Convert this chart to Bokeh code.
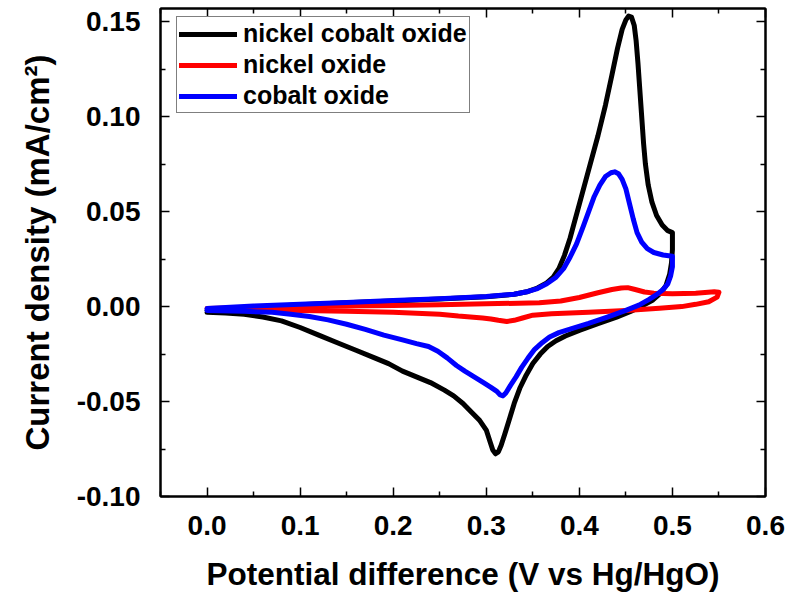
from bokeh.plotting import figure
from bokeh.models import Range1d, LinearAxis, FixedTicker, PrintfTickFormatter, Legend, LegendItem, CustomJSTickFormatter
from bokeh.embed import file_html
from bokeh.resources import INLINE

# ---- data ----
# nickel cobalt oxide: anodic sweep 0 -> 0.5 V, then cathodic sweep 0.5 -> 0 V
nco_v = [0.000, 0.050, 0.100, 0.150, 0.200, 0.250, 0.300, 0.330, 0.345, 0.355, 0.365, 0.372,
         0.378, 0.384, 0.390, 0.395, 0.400, 0.410, 0.420, 0.428, 0.435, 0.441, 0.446, 0.450,
         0.453, 0.456, 0.459, 0.461, 0.463, 0.465, 0.467, 0.469, 0.471, 0.474, 0.478, 0.483,
         0.489, 0.495, 0.500,
         0.500, 0.499, 0.497, 0.493, 0.487, 0.479, 0.468, 0.455, 0.440, 0.420, 0.400, 0.385,
         0.375, 0.366, 0.358, 0.350, 0.343, 0.336, 0.330, 0.325, 0.320, 0.316, 0.313, 0.310,
         0.307, 0.304, 0.300, 0.293, 0.285, 0.275, 0.265, 0.255, 0.240, 0.225, 0.210, 0.195,
         0.180, 0.160, 0.140, 0.120, 0.100, 0.080, 0.060, 0.040, 0.020, 0.000]
nco_j = [-0.002, -0.0005, 0.001, 0.002, 0.003, 0.004, 0.0052, 0.0065, 0.008, 0.0098, 0.0125, 0.0155,
         0.020, 0.027, 0.036, 0.045, 0.054, 0.072, 0.090, 0.106, 0.122, 0.136, 0.146, 0.151,
         0.153, 0.1525, 0.148, 0.140, 0.128, 0.114, 0.100, 0.086, 0.075, 0.064, 0.055, 0.048,
         0.043, 0.040, 0.039,
         0.030, 0.023, 0.017, 0.011, 0.007, 0.0035, 0.0005, -0.0025, -0.0055, -0.009, -0.0125, -0.0155,
         -0.018, -0.021, -0.025, -0.030, -0.036, -0.043, -0.051, -0.059, -0.067, -0.073, -0.0765, -0.0775,
         -0.0755, -0.071, -0.065, -0.060, -0.056, -0.051, -0.047, -0.044, -0.040, -0.037, -0.034, -0.030,
         -0.027, -0.023, -0.019, -0.015, -0.011, -0.0075, -0.0055, -0.004, -0.0033, -0.003]

# nickel oxide: 0 -> 0.55 V and back
ni_v = [0.000, 0.050, 0.100, 0.150, 0.200, 0.250, 0.300, 0.357, 0.380, 0.400, 0.420, 0.435,
        0.445, 0.452, 0.460, 0.470, 0.480, 0.500, 0.525, 0.545, 0.550,
        0.548, 0.539, 0.525, 0.510, 0.486, 0.450, 0.410, 0.370, 0.350, 0.339, 0.330, 0.322,
        0.313, 0.305, 0.296, 0.270, 0.250, 0.200, 0.150, 0.100, 0.050, 0.000]
ni_j = [-0.001, -0.0005, 0.0, 0.0003, 0.0006, 0.001, 0.0015, 0.002, 0.003, 0.0048, 0.0073, 0.009,
        0.0098, 0.010, 0.009, 0.0077, 0.0071, 0.0068, 0.0071, 0.0078, 0.0076,
        0.005, 0.0026, 0.0012, 0.0, -0.0008, -0.002, -0.003, -0.0037, -0.0045, -0.006, -0.0072, -0.0078,
        -0.0072, -0.0065, -0.006, -0.005, -0.004, -0.003, -0.0025, -0.002, -0.0015, -0.001]

# cobalt oxide: 0 -> 0.5 V and back
co_v = [0.000, 0.050, 0.100, 0.150, 0.200, 0.250, 0.300, 0.330, 0.345, 0.355, 0.365, 0.375,
        0.383, 0.390, 0.397, 0.404, 0.410, 0.416, 0.422, 0.428, 0.434, 0.438, 0.442, 0.446,
        0.450, 0.454, 0.458, 0.462, 0.467, 0.473, 0.480, 0.490, 0.500,
        0.500, 0.498, 0.495, 0.490, 0.483, 0.475, 0.464, 0.450, 0.430, 0.410, 0.390, 0.378,
        0.368, 0.360, 0.352, 0.345, 0.338, 0.332, 0.326, 0.321, 0.318, 0.315, 0.311, 0.305,
        0.297, 0.287, 0.277, 0.268, 0.258, 0.248, 0.238, 0.225, 0.210, 0.190, 0.170, 0.150,
        0.130, 0.110, 0.090, 0.070, 0.040, 0.000]
co_j = [-0.001, 0.0003, 0.0013, 0.0022, 0.0032, 0.0042, 0.0053, 0.0065, 0.008, 0.0095, 0.012, 0.0155,
        0.020, 0.026, 0.033, 0.042, 0.050, 0.058, 0.064, 0.0685, 0.0705, 0.071, 0.0700, 0.067,
        0.062, 0.054, 0.046, 0.039, 0.034, 0.0305, 0.0285, 0.0272, 0.0265,
        0.021, 0.016, 0.012, 0.009, 0.0063, 0.0038, 0.0008, -0.002, -0.0055, -0.0088, -0.0118, -0.0137,
        -0.016, -0.019, -0.0225, -0.027, -0.032, -0.037, -0.0415, -0.0455, -0.047, -0.0465, -0.0445, -0.0425,
        -0.040, -0.037, -0.034, -0.031, -0.027, -0.0235, -0.021, -0.0195, -0.0175, -0.015, -0.012, -0.0093,
        -0.007, -0.0052, -0.004, -0.003, -0.0025, -0.002]

series_names = ["nickel cobalt oxide", "nickel oxide", "cobalt oxide"]
x_ticks = [0.0, 0.1, 0.2, 0.3, 0.4, 0.5, 0.6]
y_ticks = [-0.10, -0.05, 0.00, 0.05, 0.10, 0.15]

FONT = "Liberation Sans"

p = figure(width=791, height=594, output_backend="svg", toolbar_location=None,
           x_range=Range1d(-0.05, 0.6), y_range=Range1d(-0.1, 0.157),
           min_border_left=160, min_border_right=26, min_border_top=8, min_border_bottom=97)
p.xgrid.visible = False
p.ygrid.visible = False
p.background_fill_color = "white"
p.border_fill_color = "white"
p.outline_line_color = "black"
p.outline_line_width = 2

r1 = p.line(nco_v, nco_j, line_color="#000000", line_width=5, line_join="round", line_cap="round")
r2 = p.line(ni_v, ni_j, line_color="#ff0000", line_width=5, line_join="round", line_cap="round")
r3 = p.line(co_v, co_j, line_color="#0000ff", line_width=5, line_join="round", line_cap="round")

xt = FixedTicker(ticks=x_ticks, minor_ticks=[-0.05, 0.05, 0.15, 0.25, 0.35, 0.45, 0.55])
yt = FixedTicker(ticks=y_ticks, minor_ticks=[-0.075, -0.025, 0.025, 0.075, 0.125])


def style(ax, show_labels, label_size="31.5px"):
    ax.axis_line_color = "black"
    ax.axis_line_width = 2
    ax.major_tick_in = 9
    ax.major_tick_out = 0
    ax.minor_tick_in = 5
    ax.minor_tick_out = 0
    ax.major_tick_line_width = 1.5
    ax.minor_tick_line_width = 1.5
    ax.major_tick_line_color = "black"
    ax.minor_tick_line_color = "black"
    if show_labels:
        ax.major_label_text_font = FONT
        ax.major_label_text_font_style = "bold"
        ax.major_label_text_font_size = "28px"
        ax.major_label_text_color = "black"
        ax.axis_label_text_font = FONT
        ax.axis_label_text_font_style = "bold"
        ax.axis_label_text_font_size = label_size
        ax.axis_label_text_color = "black"
    else:
        ax.formatter = CustomJSTickFormatter(code="return '';")
        ax.major_label_text_font_size = "0px"
        ax.major_label_standoff = 0
        ax.axis_label = None


xa = p.xaxis[0]
xa.ticker = xt
xa.formatter = PrintfTickFormatter(format="%.1f")
xa.axis_label = "Potential difference (V vs Hg/HgO)"
style(xa, True)
xa.major_label_standoff = 19
xa.axis_label_standoff = 18

ya = p.yaxis[0]
ya.ticker = yt
ya.formatter = PrintfTickFormatter(format="%.2f")
ya.axis_label = "Current density (mA/cm²)"
style(ya, True, "33px")
ya.major_label_standoff = 20
ya.axis_label_standoff = 18

top = LinearAxis(ticker=xt)
style(top, False)
p.add_layout(top, "above")
right = LinearAxis(ticker=yt)
style(right, False)
p.add_layout(right, "right")

legend = Legend(items=[LegendItem(label=series_names[0], renderers=[r1]),
                       LegendItem(label=series_names[1], renderers=[r2]),
                       LegendItem(label=series_names[2], renderers=[r3])],
                location=(16, 383))
legend.label_text_font = FONT
legend.label_text_font_style = "bold"
legend.label_text_font_size = "25px"
legend.label_text_line_height = 1.0
legend.label_text_color = "black"
legend.glyph_width = 58
legend.glyph_height = 24
legend.label_height = 24
legend.label_standoff = 6
legend.spacing = 2
legend.padding = 2
legend.margin = 0
legend.border_line_color = "black"
legend.border_line_width = 1.5
legend.background_fill_alpha = 1.0
p.add_layout(legend, "center")

open("out.html", "w").write(file_html(p, INLINE))
